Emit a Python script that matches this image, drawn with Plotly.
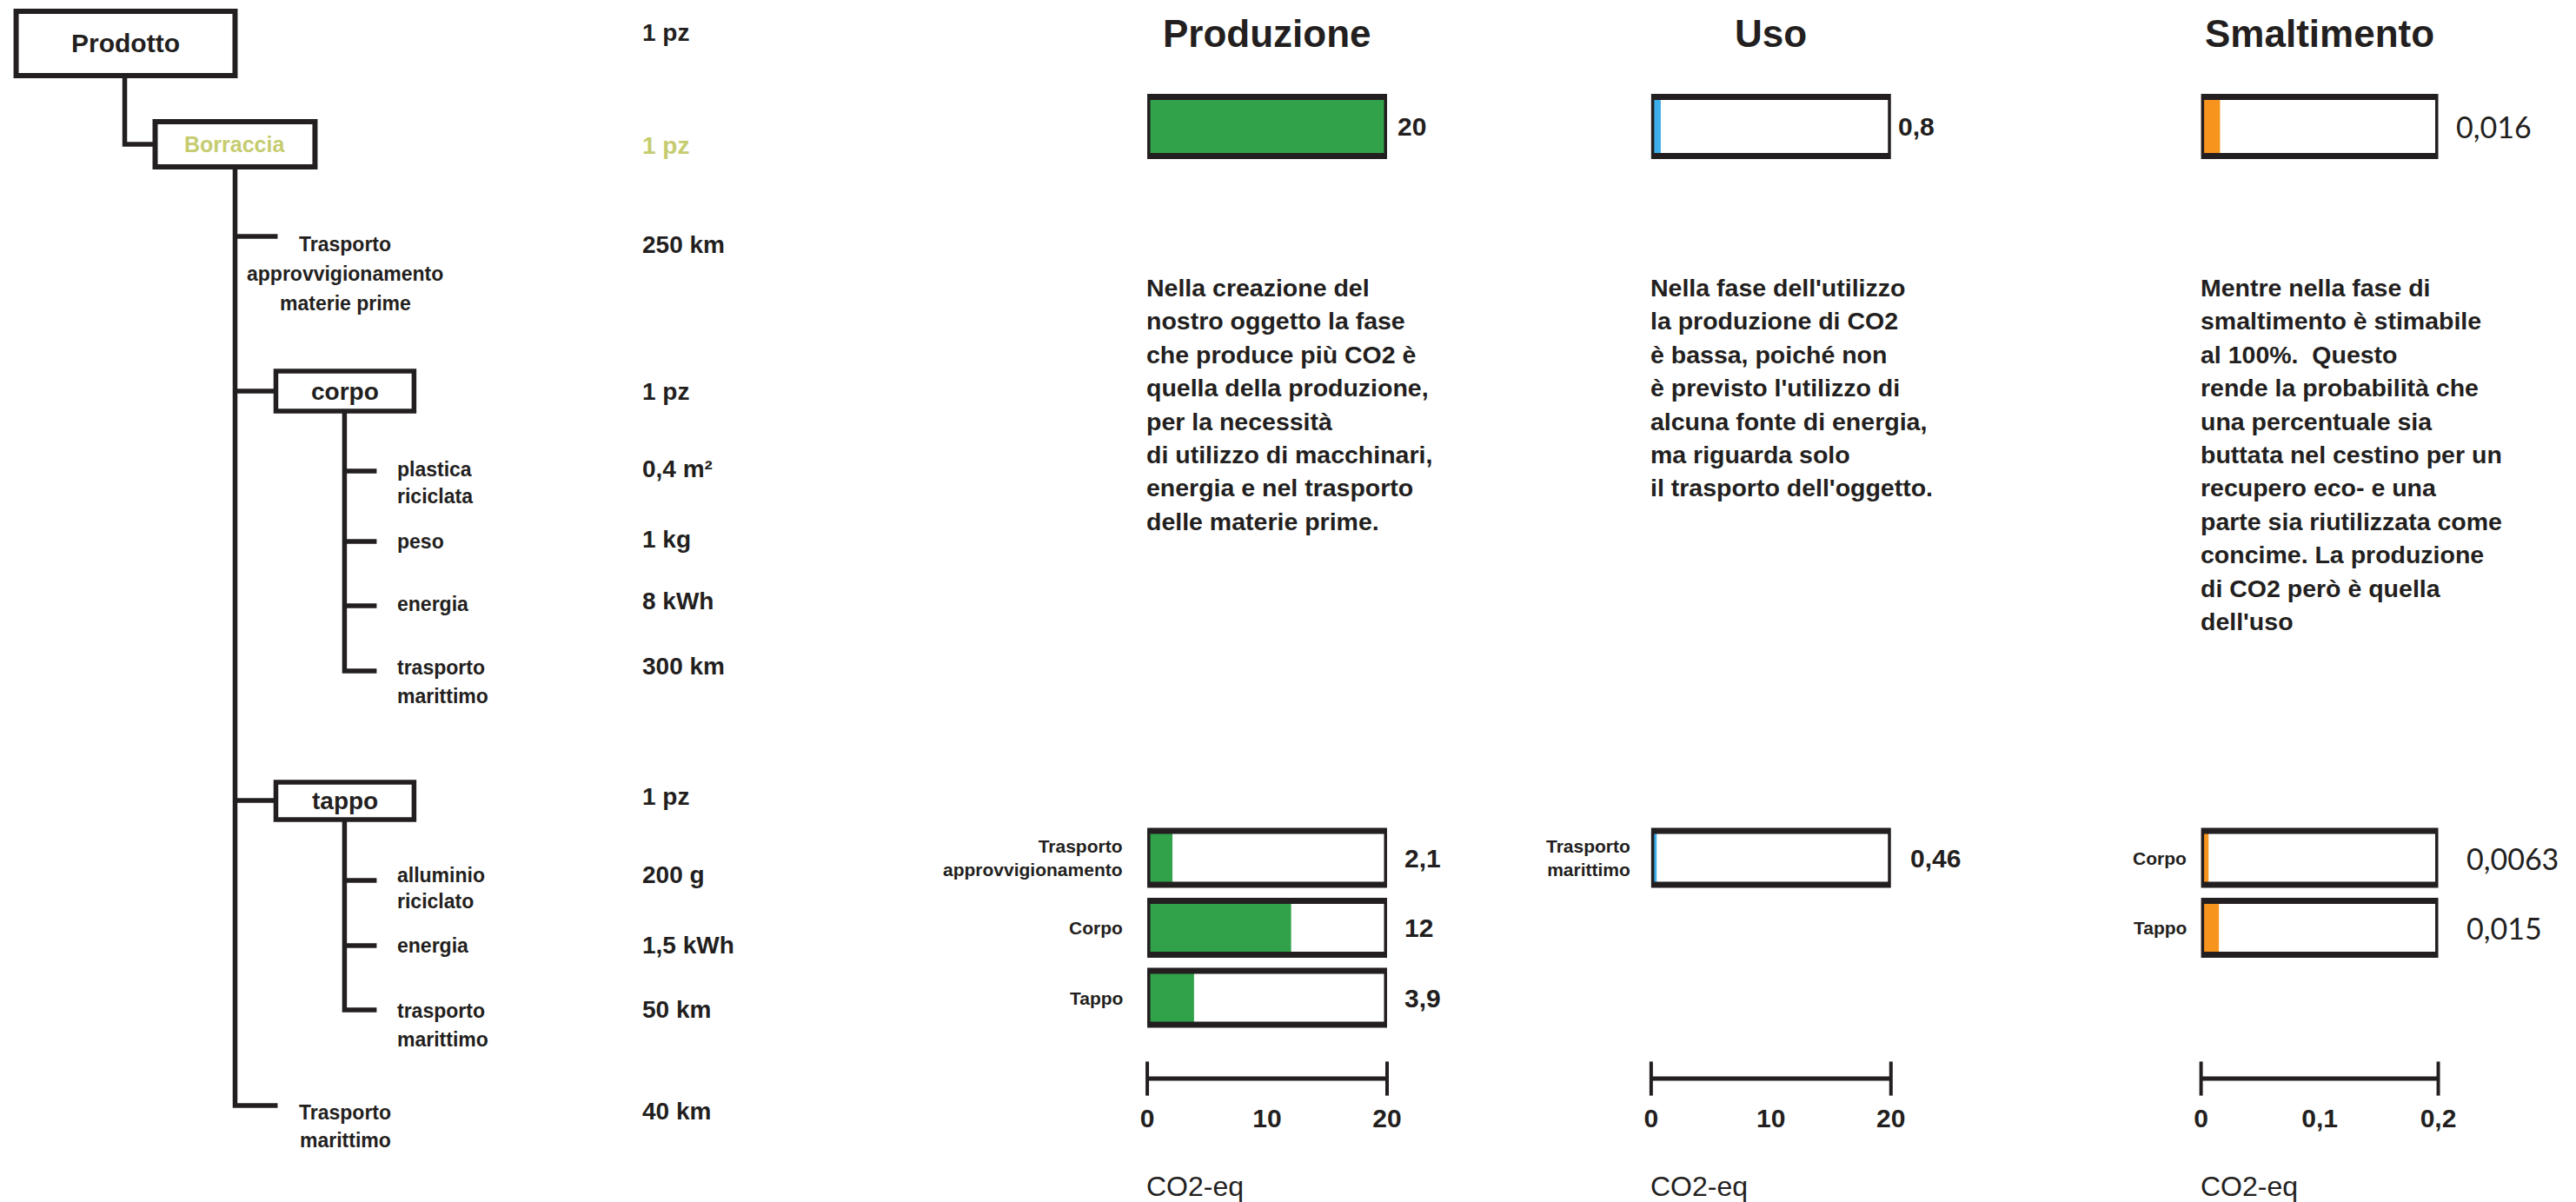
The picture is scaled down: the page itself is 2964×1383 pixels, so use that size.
import plotly.graph_objects as go

W, H = 2964, 1383
INK = "#231f20"
LIME = "#c5cc6f"
NARROW = "Liberation Sans Narrow, Arial Narrow, sans-serif"
LIGHT = "Lato, Open Sans, sans-serif"

# ---------------- data ----------------
phase_titles = ["Produzione", "Uso", "Smaltimento"]
phase_colors = ["#31a24a", "#3daee9", "#f7941d"]
phase_total = [20, 0.8, 0.016]
phase_total_text = ["20", "0,8", "0,016"]
scale_max = [20, 20, 0.2]
scale_tick_text = [["0", "10", "20"], ["0", "10", "20"], ["0", "0,1", "0,2"]]

prod_categories = ["Trasporto<br>approvvigionamento", "Corpo", "Tappo"]
prod_values = [2.1, 12, 3.9]
prod_text = ["2,1", "12", "3,9"]

uso_categories = ["Trasporto<br>marittimo"]
uso_values = [0.46]
uso_text = ["0,46"]

smalt_categories = ["Corpo", "Tappo"]
smalt_values = [0.0063, 0.015]
smalt_text = ["0,0063", "0,015"]

prod_paragraph = [
    "Nella creazione del",
    "nostro oggetto la fase",
    "che produce più CO2 è",
    "quella della produzione,",
    "per la necessità",
    "di utilizzo di macchinari,",
    "energia e nel trasporto",
    "delle materie prime.",
]
uso_paragraph = [
    "Nella fase dell'utilizzo",
    "la produzione di CO2",
    "è bassa, poiché non",
    "è previsto l'utilizzo di",
    "alcuna fonte di energia,",
    "ma riguarda solo",
    "il trasporto dell'oggetto.",
]
smalt_paragraph = [
    "Mentre nella fase di",
    "smaltimento è stimabile",
    "al 100%.  Questo",
    "rende la probabilità che",
    "una percentuale sia",
    "buttata nel cestino per un",
    "recupero eco- e una",
    "parte sia riutilizzata come",
    "concime. La produzione",
    "di CO2 però è quella",
    "dell'uso",
]

tree_labels = [
    "Prodotto", "Borraccia",
    "Trasporto<br>approvvigionamento<br>materie prime",
    "corpo", "plastica<br>riciclata", "peso", "energia", "trasporto<br>marittimo",
    "tappo", "alluminio<br>riciclato", "energia", "trasporto<br>marittimo",
    "Trasporto<br>marittimo",
]
tree_values = [
    "1 pz", "1 pz", "250 km", "1 pz", "0,4 m²", "1 kg", "8 kWh", "300 km",
    "1 pz", "200 g", "1,5 kWh", "50 km", "40 km",
]

# ---------------- layout helpers (pixel positions) ----------------
def X(x):
    # small horizontal calibration of the pixel grid
    return 1.0095 * x - 7.5


def px(x):
    return X(x) / W


def py(y):
    return 1 - y / H


fig = go.Figure()
layout = dict(
    width=W, height=H, margin=dict(l=0, r=0, t=0, b=0), autosize=False,
    paper_bgcolor="white", plot_bgcolor="rgba(0,0,0,0)",
    showlegend=False, barmode="overlay",
    font=dict(family=NARROW, color=INK),
)
annotations = []
shapes = []


def note(text, x, y, size, weight=700, color=INK, xanchor="left", family=NARROW, align="left",
         xref="paper", yref="paper", xshift=0):
    annotations.append(dict(
        text=text, x=x, y=y, xref=xref, yref=yref, xanchor=xanchor, yanchor="middle",
        showarrow=False, align=align, xshift=xshift,
        font=dict(family=family, size=size, color=color, weight=weight),
    ))


def pnote(text, x, y, size, **kw):
    note(text, px(x), py(y), size, **kw)


def rect(x0, y0, x1, y1, lw=6):
    shapes.append(dict(type="rect", xref="paper", yref="paper", x0=px(x0), x1=px(x1),
                       y0=py(y1), y1=py(y0), line=dict(color=INK, width=lw), fillcolor="rgba(0,0,0,0)"))


def path(points, lw=5.5):
    d = "M " + " L ".join(f"{px(a)},{py(b)}" for a, b in points)
    shapes.append(dict(type="path", xref="paper", yref="paper", path=d,
                       line=dict(color=INK, width=lw)))


# ---------------- tree diagram ----------------
rect(18, 13, 270, 87)
rect(178, 140, 362, 192)
rect(317, 427, 476, 473, 5.5)
rect(317, 900, 476, 943, 5.5)
path([(143, 90), (143, 166), (178, 166)])
path([(270, 192), (270, 1272), (319, 1272)])
for yb, xe in [(272, 319), (450, 317), (921, 317)]:
    path([(270, yb), (xe, yb)])
path([(396, 473), (396, 772), (433, 772)])
for yb in [542, 623, 697]:
    path([(396, yb), (433, yb)])
path([(396, 943), (396, 1162), (433, 1162)])
for yb in [1013, 1088]:
    path([(396, yb), (433, yb)])

# node text placement: (x, first-line y, line spacing, anchor, size, colour)
tree_pos = [
    (144, 50, 0, "center", 30, INK),
    (270, 166, 0, "center", 25, LIME),
    (397, 281, 34, "center", 23, INK),
    (397, 450, 0, "center", 28, INK),
    (455, 540, 31, "left", 23, INK),
    (455, 623, 0, "left", 23, INK),
    (455, 695, 0, "left", 23, INK),
    (455, 768, 33, "left", 23, INK),
    (397, 921, 0, "center", 28, INK),
    (455, 1007, 30, "left", 23, INK),
    (455, 1088, 0, "left", 23, INK),
    (455, 1163, 33, "left", 23, INK),
    (397, 1280, 32, "center", 23, INK),
]
value_y = [37, 168, 281, 450, 540, 620, 692, 766, 916, 1006, 1087, 1161, 1278]
for lab, val, (x, y, dy, anc, size, col), vy in zip(tree_labels, tree_values, tree_pos, value_y):
    for i, line in enumerate(lab.split("<br>")):
        pnote(line, x, y + i * dy, size, xanchor=anc, color=col)
    pnote(val, 737, vy, 28, color=col)

# ---------------- phase panels ----------------
panel_x = [(1320, 1596), (1900, 2176), (2533, 2806)]
paragraphs = [prod_paragraph, uso_paragraph, smalt_paragraph]
cats_all = [prod_categories, uso_categories, smalt_categories]
vals_all = [prod_values, uso_values, smalt_values]
text_all = [prod_text, uso_text, smalt_text]
light_values = [False, False, True]
top_shift = [10, 6, 18]
bottom_shift = [18, 20, 30]
cat_shift = [-26, -22, -15]

TOP_C, TOP_HALF = 145.5, 40
BOT_C0, BOT_PITCH = 987, 80.5
SCALE_Y = 1241

k = 1
for p in range(3):
    xa, xb = panel_x[p]
    m = scale_max[p]
    col = phase_colors[p]
    n_top, n_bot, n_sc = (str(k) if k > 1 else ""), str(k + 1), str(k + 2)

    # title + paragraph
    pnote(phase_titles[p], (xa + xb) / 2, 38, 44, xanchor="center")
    for i, line in enumerate(paragraphs[p]):
        pnote(line, xa - 3, 331 + 38.4 * i, 28.5)

    # --- top total bar
    layout["xaxis" + n_top] = dict(domain=[px(xa), px(xb)], range=[0, m], visible=False,
                                   fixedrange=True, anchor="y" + n_top)
    layout["yaxis" + n_top] = dict(domain=[py(TOP_C + TOP_HALF), py(TOP_C - TOP_HALF)],
                                   range=[0.5, -0.5], visible=False, fixedrange=True,
                                   anchor="x" + n_top)
    fig.add_trace(go.Bar(x=[phase_total[p]], y=[0], orientation="h", width=0.85,
                         marker=dict(color=col, line=dict(width=0)),
                         xaxis="x" + n_top, yaxis="y" + n_top, hoverinfo="skip"))
    fig.add_trace(go.Bar(x=[m], y=[0], orientation="h", width=0.85,
                         marker=dict(color="rgba(0,0,0,0)", line=dict(color=INK, width=7)),
                         xaxis="x" + n_top, yaxis="y" + n_top, hoverinfo="skip"))
    if light_values[p]:
        note(phase_total_text[p], m, 0, 34, weight=400, family=LIGHT,
             xref="x" + n_top, yref="y" + n_top, xshift=top_shift[p])
    else:
        note(phase_total_text[p], m, 0, 30, xref="x" + n_top, yref="y" + n_top,
             xshift=top_shift[p])

    # --- detail bars
    cats, vals, txt = cats_all[p], vals_all[p], text_all[p]
    rows = list(range(len(cats)))
    layout["xaxis" + n_bot] = dict(domain=[px(xa), px(xb)], range=[0, m], visible=False,
                                   fixedrange=True, anchor="y" + n_bot)
    layout["yaxis" + n_bot] = dict(domain=[py(BOT_C0 + 2.5 * BOT_PITCH), py(BOT_C0 - 0.5 * BOT_PITCH)],
                                   range=[2.5, -0.5], visible=False, fixedrange=True,
                                   anchor="x" + n_bot)
    fig.add_trace(go.Bar(x=vals, y=rows, orientation="h", width=0.77,
                         marker=dict(color=col, line=dict(width=0)),
                         xaxis="x" + n_bot, yaxis="y" + n_bot, hoverinfo="skip"))
    fig.add_trace(go.Bar(x=[m] * len(rows), y=rows, orientation="h", width=0.77,
                         marker=dict(color="rgba(0,0,0,0)", line=dict(color=INK, width=7)),
                         xaxis="x" + n_bot, yaxis="y" + n_bot, hoverinfo="skip"))
    for r, c, t in zip(rows, cats, txt):
        note(c, 0, r, 21, xanchor="right", align="right", xref="x" + n_bot, yref="y" + n_bot,
             xshift=cat_shift[p])
        if light_values[p]:
            note(t, m, r, 34, weight=400, family=LIGHT, xref="x" + n_bot, yref="y" + n_bot,
                 xshift=bottom_shift[p])
        else:
            note(t, m, r, 30, xref="x" + n_bot, yref="y" + n_bot, xshift=bottom_shift[p])

    # --- scale
    layout["xaxis" + n_sc] = dict(domain=[px(xa), px(xb)], range=[0, m], fixedrange=True,
                                  anchor="y" + n_sc, showline=False, showgrid=False,
                                  zeroline=False, ticks="",
                                  tickvals=[0, m / 2, m], ticktext=scale_tick_text[p],
                                  tickfont=dict(family=NARROW, size=30, color=INK, weight=700),
                                  ticklabelstandoff=9)
    layout["yaxis" + n_sc] = dict(domain=[py(SCALE_Y + 16), py(SCALE_Y - 16)], range=[-1, 1],
                                  visible=False, fixedrange=True, anchor="x" + n_sc)
    fig.add_trace(go.Scatter(x=[0, m], y=[0, 0], mode="lines+markers",
                             line=dict(color=INK, width=5),
                             marker=dict(symbol="line-ns", size=28,
                                         line=dict(color=INK, width=4)),
                             xaxis="x" + n_sc, yaxis="y" + n_sc, hoverinfo="skip",
                             cliponaxis=False))
    pnote("CO2-eq", xa - 3, 1365, 32, weight=400)
    k += 3

layout["annotations"] = annotations
layout["shapes"] = shapes
fig.update_layout(**layout)
fig.write_html(
    "out.html",
    config={"displayModeBar": False, "responsive": False},
    post_script="document.body.style.margin='0';document.body.style.overflow='hidden';",
)
